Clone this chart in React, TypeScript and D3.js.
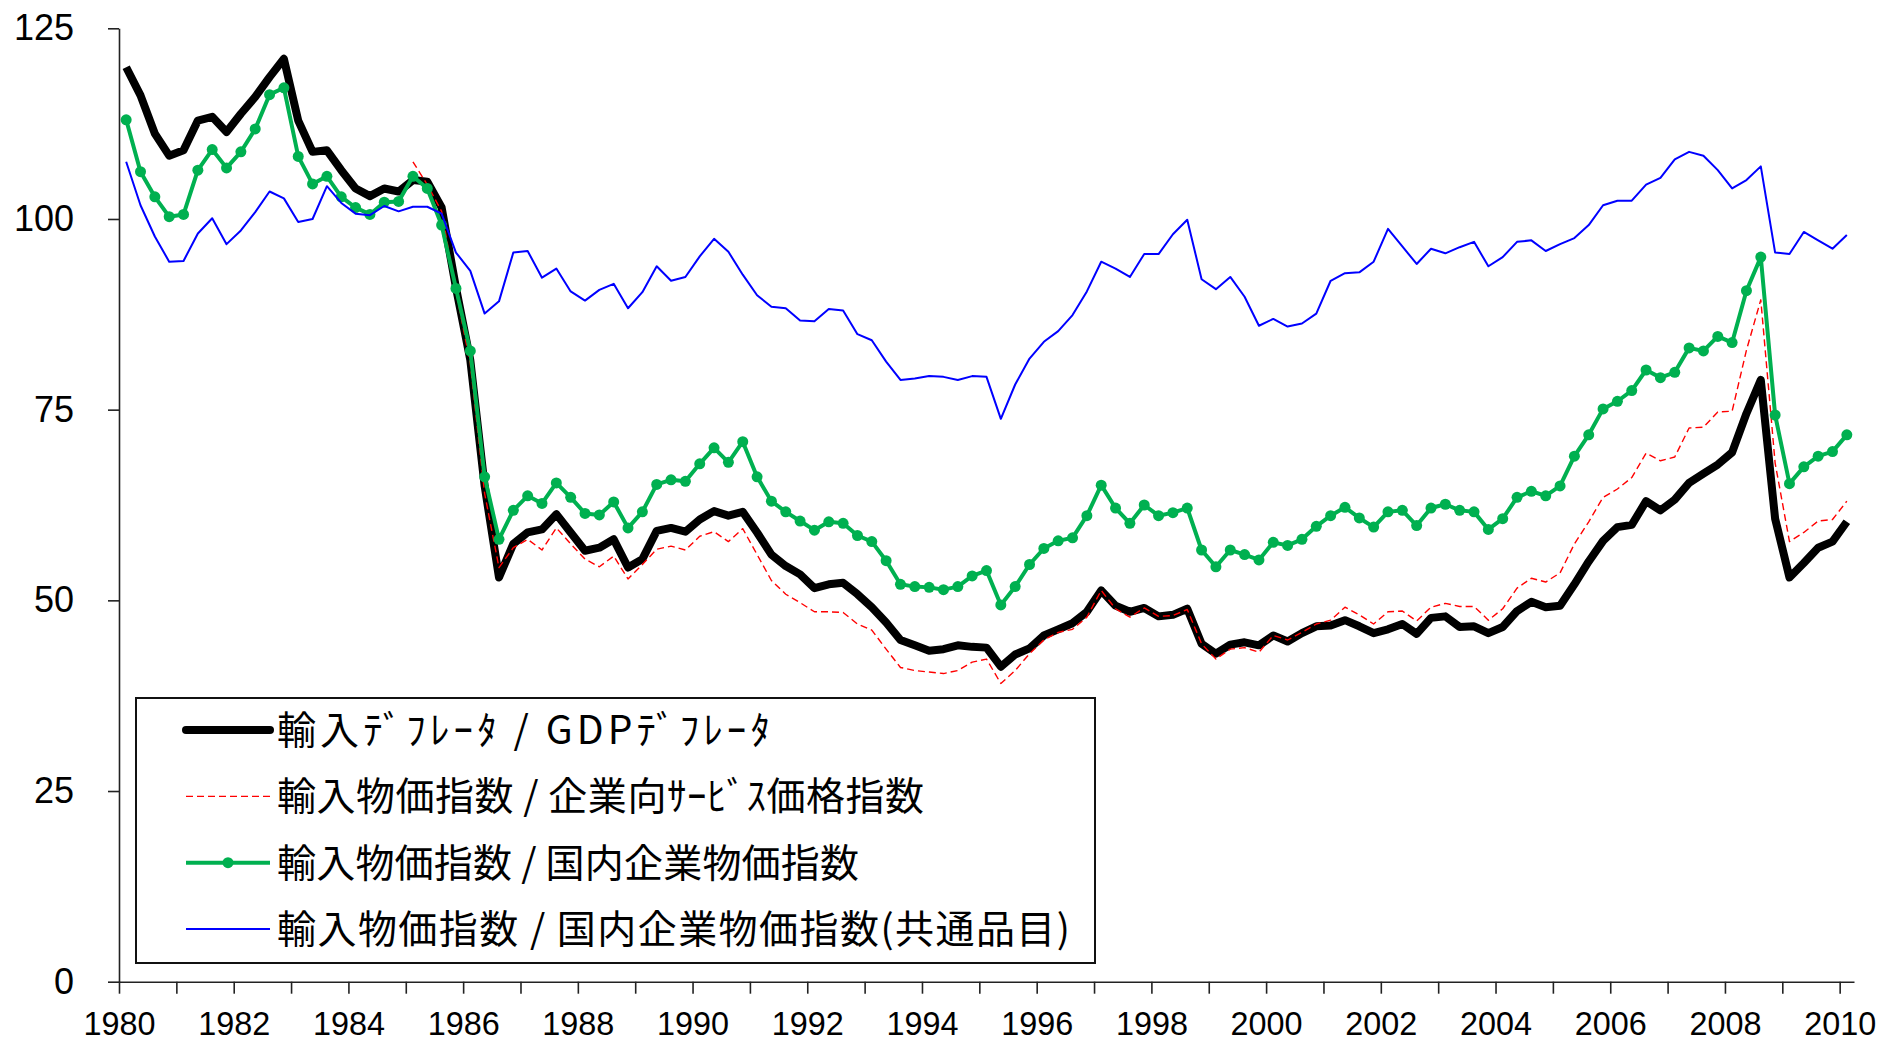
import * as d3 from "d3"
import { useEffect, useRef } from "react"

// quarterly, 1980Q1 .. 2010Q1
const START_YEAR = 1980
const N_QUARTERS = 121

const gdpDeflatorRatio = [
    119.9, 116.2, 111.2, 108.3, 109.0, 112.9, 113.4, 111.4, 113.8, 116.0, 118.6, 121.0,
    112.9, 108.8, 109.0, 106.4, 104.0, 103.0, 104.0, 103.6, 105.1, 104.9, 101.5, 91.0,
    81.5, 65.0, 53.0, 57.4, 58.9, 59.3, 61.3, 58.9, 56.5, 56.9, 58.0, 54.3,
    55.4, 59.1, 59.5, 59.0, 60.6, 61.7, 61.1, 61.6, 58.9, 56.0, 54.5, 53.4,
    51.6, 52.1, 52.3, 50.8, 49.1, 47.1, 44.8, 44.1, 43.4, 43.6, 44.1, 43.9,
    43.8, 41.3, 42.9, 43.7, 45.4, 46.2, 47.0, 48.5, 51.3, 49.3, 48.5, 49.0,
    47.9, 48.1, 48.9, 44.3, 43.0, 44.2, 44.5, 44.1, 45.4, 44.6, 45.7, 46.6,
    46.7, 47.4, 46.6, 45.7, 46.2, 46.9, 45.6, 47.7, 47.9, 46.5, 46.6, 45.7,
    46.5, 48.6, 49.8, 49.1, 49.3, 52.1, 55.1, 57.8, 59.6, 59.9, 63.0, 61.8,
    63.2, 65.4, 66.6, 67.8, 69.4, 74.5, 78.9, 60.7, 53.0, 54.9, 56.9, 57.7,
    60.3,
]

const servicePriceRatio = [
    null, null, null, null, null, null, null, null, null, null, null, null,
    null, null, null, null, null, null, null, null, 107.5, 104.5, 101.0, 90.5,
    81.0, 64.0, 54.3, 56.9, 58.0, 56.6, 59.5, 57.4, 55.4, 54.4, 55.8, 52.8,
    54.7, 56.7, 57.1, 56.6, 58.4, 59.0, 57.7, 59.4, 56.0, 52.6, 50.8, 49.7,
    48.5, 48.5, 48.4, 46.9, 46.1, 43.6, 41.2, 40.8, 40.6, 40.4, 40.8, 41.9,
    42.3, 39.1, 40.8, 43.0, 44.8, 45.8, 46.2, 47.8, 51.3, 48.9, 47.8, 49.0,
    47.9, 48.0, 48.8, 44.3, 42.3, 43.6, 43.8, 43.2, 45.4, 44.8, 45.8, 46.9,
    47.4, 49.1, 48.1, 46.9, 48.5, 48.6, 47.3, 49.1, 49.6, 49.2, 49.2, 47.4,
    48.9, 51.6, 52.9, 52.4, 53.6, 57.4, 60.3, 63.5, 64.6, 66.1, 69.3, 68.3,
    68.8, 72.6, 72.7, 74.7, 74.8, 82.8, 89.4, 68.0, 57.7, 58.9, 60.4, 60.6,
    63.0,
]

const cgpiRatio = [
    113.0, 106.2, 102.9, 100.3, 100.6, 106.4, 109.1, 106.7, 108.8, 111.8, 116.3, 117.2,
    108.2, 104.6, 105.6, 102.9, 101.5, 100.6, 102.2, 102.3, 105.6, 104.0, 99.2, 90.9,
    82.7, 66.2, 58.0, 61.8, 63.7, 62.7, 65.4, 63.5, 61.4, 61.2, 62.9, 59.5,
    61.6, 65.2, 65.8, 65.6, 67.9, 70.0, 68.1, 70.8, 66.2, 63.0, 61.6, 60.4,
    59.2, 60.3, 60.1, 58.5, 57.7, 55.2, 52.1, 51.8, 51.7, 51.4, 51.8, 53.2,
    53.9, 49.4, 51.8, 54.7, 56.8, 57.8, 58.2, 61.1, 65.1, 62.1, 60.1, 62.5,
    61.1, 61.5, 62.1, 56.6, 54.4, 56.6, 56.0, 55.3, 57.6, 57.2, 58.0, 59.7,
    61.1, 62.2, 60.8, 59.6, 61.6, 61.8, 59.8, 62.1, 62.6, 61.8, 61.6, 59.3,
    60.7, 63.5, 64.3, 63.7, 65.0, 68.9, 71.7, 75.1, 76.1, 77.5, 80.2, 79.2,
    79.9, 83.1, 82.7, 84.6, 83.8, 90.6, 95.0, 74.3, 65.3, 67.5, 68.9, 69.5,
    71.7,
]

const cgpiCommonRatio = [
    107.5, 101.8, 97.7, 94.4, 94.5, 98.1, 100.1, 96.7, 98.5, 100.9, 103.6, 102.7,
    99.6, 100.0, 104.3, 102.1, 100.7, 100.5, 101.7, 101.0, 101.6, 101.6, 100.7, 95.6,
    93.2, 87.6, 89.2, 95.6, 95.8, 92.3, 93.5, 90.5, 89.3, 90.7, 91.5, 88.3,
    90.4, 93.8, 91.9, 92.4, 95.1, 97.4, 95.7, 92.7, 90.0, 88.5, 88.3, 86.7,
    86.6, 88.2, 88.0, 84.9, 84.1, 81.3, 78.9, 79.1, 79.4, 79.3, 78.9, 79.4,
    79.3, 73.8, 78.3, 81.7, 83.9, 85.3, 87.4, 90.5, 94.4, 93.5, 92.4, 95.4,
    95.4, 98.0, 99.9, 92.1, 90.8, 92.4, 89.8, 86.0, 86.9, 85.9, 86.3, 87.6,
    91.9, 92.9, 93.0, 94.4, 98.7, 96.4, 94.1, 96.1, 95.5, 96.3, 97.0, 93.8,
    95.0, 97.0, 97.2, 95.8, 96.7, 97.5, 99.2, 101.8, 102.4, 102.4, 104.5, 105.4,
    107.8, 108.8, 108.3, 106.4, 104.0, 105.1, 106.9, 95.6, 95.4, 98.3, 97.2, 96.1,
    97.9,
]

const yTicks = [0, 25, 50, 75, 100, 125]
const xTickYears = d3.range(1980, 2011)

const seriesNames = [
    "輸入ﾃﾞﾌﾚｰﾀ / GDPﾃﾞﾌﾚｰﾀ",
    "輸入物価指数 / 企業向ｻｰﾋﾞｽ価格指数",
    "輸入物価指数 / 国内企業物価指数",
    "輸入物価指数 / 国内企業物価指数(共通品目)",
]

const App = () => {
    const ref = useRef(null)

    useEffect(() => {
        const svg = d3.select(ref.current)
        svg.selectAll("*").remove()

        const x = d3.scaleLinear().domain([1980, 2010.25]).range([119, 1854])
        const y = d3.scaleLinear().domain([0, 125]).range([981.7, 28.3])

        // each quarter sits in the middle of its slot
        const tq = (i) => START_YEAR + i / 4 + 0.125

        const series = [
            { values: gdpDeflatorRatio, color: "#000000", width: 8, dash: null, marker: false },
            { values: servicePriceRatio, color: "#FF0000", width: 1.4, dash: "7,4", marker: false },
            { values: cgpiRatio, color: "#00B050", width: 4, dash: null, marker: true },
            { values: cgpiCommonRatio, color: "#0000FF", width: 2, dash: null, marker: false },
        ]

        const line = d3.line()
            .defined((d) => d != null)
            .x((_, i) => x(tq(i)))
            .y((d) => y(d))

        series.forEach((s) => {
            const vals = s.values.slice(0, N_QUARTERS)
            svg.append("path")
                .datum(vals)
                .attr("fill", "none")
                .attr("stroke", s.color)
                .attr("stroke-width", s.width)
                .attr("stroke-linejoin", "round")
                .attr("stroke-dasharray", s.dash)
                .attr("d", line)
            if (s.marker) {
                svg.append("g")
                    .selectAll("circle")
                    .data(vals)
                    .join("circle")
                    .attr("cx", (_, i) => x(tq(i)))
                    .attr("cy", (d) => y(d))
                    .attr("r", 5.5)
                    .attr("fill", s.color)
            }
        })

        // axes
        const yAxis = svg.append("g")
            .attr("transform", `translate(${x(1980)},0)`)
            .call(d3.axisLeft(y).tickValues(yTicks).tickSize(11).tickSizeOuter(0).tickPadding(34))
        yAxis.selectAll("text")
            .attr("font-family", "'Liberation Sans', Arial, sans-serif")
            .attr("font-size", 36)
            .attr("fill", "#000")

        const xAxis = svg.append("g")
            .attr("transform", `translate(0,${y(0)})`)
            .call(d3.axisBottom(x)
                .tickValues(xTickYears)
                .tickFormat((d) => (d % 2 === 0 ? String(d) : ""))
                .tickSize(12)
                .tickSizeOuter(0)
                .tickPadding(17))
        xAxis.selectAll("text")
            .attr("font-family", "'Liberation Sans', Arial, sans-serif")
            .attr("font-size", 34)
            .attr("fill", "#000")
            .filter((d) => d % 2 === 0)
            .attr("textLength", 72)
            .attr("lengthAdjust", "spacingAndGlyphs")

        svg.selectAll(".domain, .tick line")
            .attr("stroke", "#222")
            .attr("stroke-width", 1.6)

        // legend
        const legend = svg.append("g")
        legend.append("rect")
            .attr("x", 136)
            .attr("y", 698)
            .attr("width", 959)
            .attr("height", 265)
            .attr("fill", "#fff")
            .attr("stroke", "#111")
            .attr("stroke-width", 2)

        // label widths as they come out in the original (MS PGothic-like metrics)
        const labelWidths = [493, 647, 582, 793]
        const rowY = d3.scalePoint().domain(d3.range(seriesNames.length)).range([730, 929])
        series.forEach((s, k) => {
            const g = legend.append("g").attr("transform", `translate(0,${rowY(k)})`)
            g.append("line")
                .attr("x1", 186)
                .attr("x2", 270)
                .attr("stroke", s.color)
                .attr("stroke-width", s.width)
                .attr("stroke-linecap", s.width > 5 ? "round" : "butt")
                .attr("stroke-dasharray", s.dash)
            if (s.marker) {
                g.append("circle").attr("cx", 228).attr("r", 5.5).attr("fill", s.color)
            }
            g.append("text")
                .attr("x", 277)
                .attr("dy", "0.36em")
                .attr("font-family", "'Noto Sans CJK JP', sans-serif")
                .attr("font-size", 39)
                .attr("fill", "#000")
                .attr("textLength", labelWidths[k])
                .attr("lengthAdjust", "spacing")
                .text(seriesNames[k])
        })
    }, [])

    return (
        <div>
            <style>{"body{margin:0}"}</style>
            <svg ref={ref} width={1885} height={1043} style={{ display: "block", background: "#fff" }}></svg>
        </div>
    )
}

export default App
